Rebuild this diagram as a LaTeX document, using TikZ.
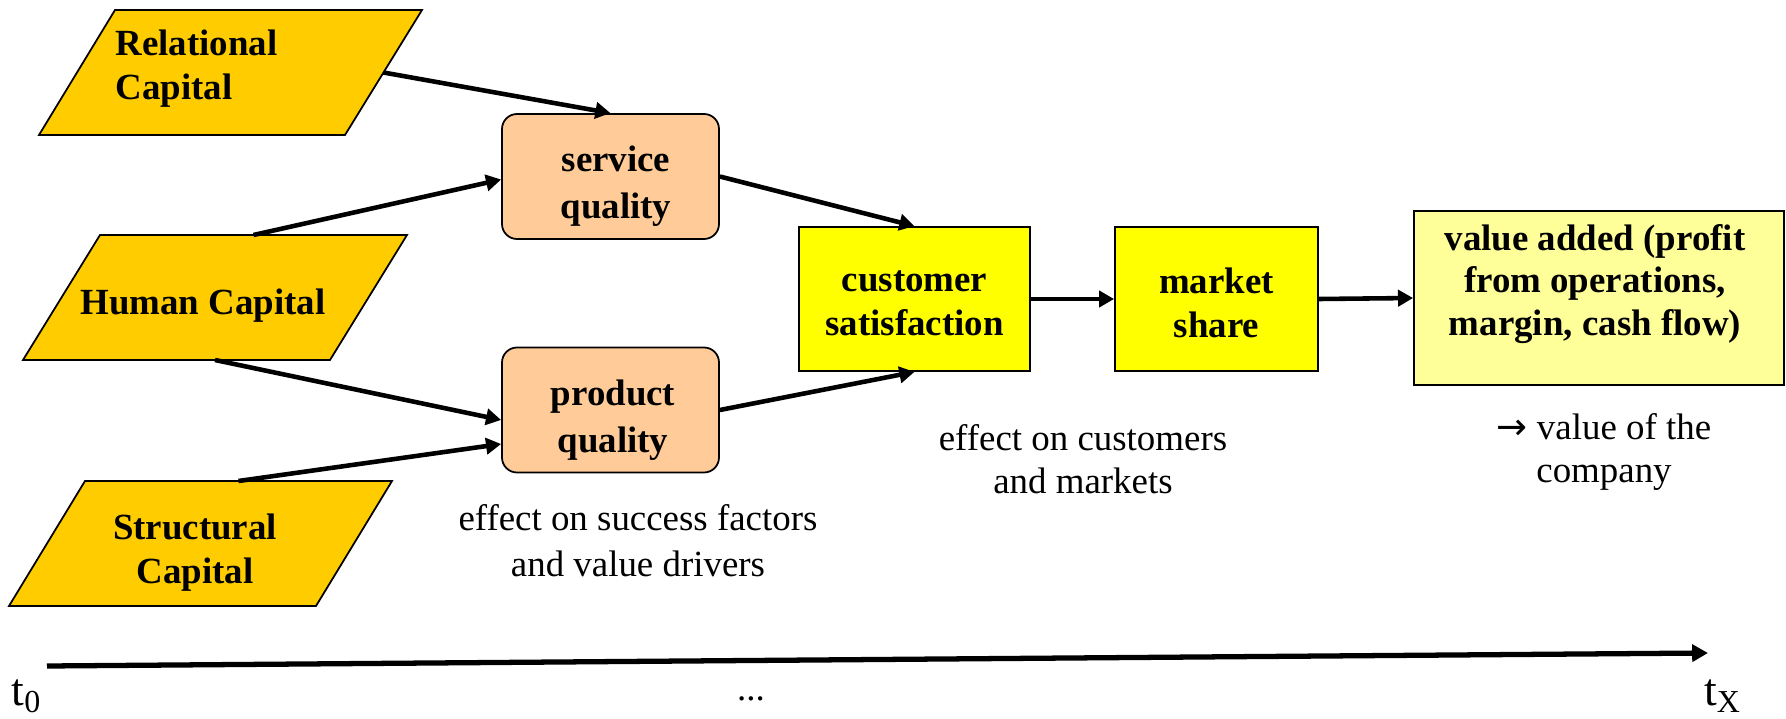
\documentclass[tikz,border=0pt]{standalone}
\usepackage{fontspec}
\setmainfont{Liberation Serif}
\newfontfamily\arrowfont{DejaVu Sans}
\usetikzlibrary{arrows.meta,calc}

\definecolor{capitalgold}{HTML}{FFCC00}
\definecolor{qualitypeach}{HTML}{FFCC99}
\definecolor{marketyellow}{HTML}{FFFF00}
\definecolor{valueyellow}{HTML}{FFFF99}

\begin{document}
\begin{tikzpicture}[
    font=\fontsize{10.5}{12.3}\selectfont,
    capital/.style={draw=black, fill=capitalgold, line width=0.5pt},
    captext/.style={inner sep=0pt, align=center, font=\fontsize{10.5}{12.5}\selectfont\bfseries},
    qualitybox/.style={draw=black, fill=qualitypeach, line width=0.5pt, rounded corners=0.15cm,
      inner sep=0pt, minimum width=2.17cm, minimum height=1.25cm},
    marketbox/.style={draw=black, fill=marketyellow, line width=0.5pt, inner sep=0pt,
      minimum height=1.44cm},
    note/.style={inner sep=0pt, align=center},
    flow/.style={-{Triangle[length=4.3pt,width=4.6pt]}, line width=1.3pt},
  ]
  \useasboundingbox (0,0) rectangle (17.86,7.18);

  % Capitals
  \filldraw[capital] (1.15,7.08) -- (4.22,7.08) -- (3.45,5.83) -- (0.39,5.83) -- cycle;
  \node[captext, anchor=west, align=left] (rel) at (1.15,6.49) {Relational\\Capital};
  \filldraw[capital] (1.00,4.83) -- (4.07,4.83) -- (3.30,3.58) -- (0.23,3.58) -- cycle;
  \node[captext] (hum) at (2.03,4.12) {Human Capital};
  \filldraw[capital] (0.85,2.37) -- (3.92,2.37) -- (3.16,1.12) -- (0.09,1.12) -- cycle;
  \node[captext] (str) at (1.95,1.65) {Structural\\Capital};
  \coordinate (rel-out) at (3.835,6.455);
  \coordinate (hum-top) at (2.535,4.83);
  \coordinate (hum-bot) at (2.15,3.58);
  \coordinate (str-top) at (2.385,2.37);

  % Success factors
  \node[qualitybox] (svc) at (6.105,5.415) {};
  \node[captext, font=\fontsize{10.5}{13.2}\selectfont\bfseries] (svctext) at (6.16,5.32) {service\\quality};
  \node[qualitybox] (prd) at (6.105,3.08) {};
  \node[captext, font=\fontsize{10.5}{13.2}\selectfont\bfseries] (prdtext) at (6.13,2.98) {product\\quality};

  % Customers and markets
  \node[marketbox, minimum width=2.31cm] (cus) at (9.145,4.19) {};
  \node[captext] (custext) at (9.145,4.15) {customer\\satisfaction};
  \node[marketbox, minimum width=2.03cm] (mkt) at (12.165,4.19) {};
  \node[captext] (mkttext) at (12.165,4.15) {market\\share};
  \node[draw=black, fill=valueyellow, line width=0.5pt, minimum width=3.70cm, minimum height=1.74cm] (val) at (15.99,4.20) {};
  \node[captext, font=\fontsize{10.5}{12.2}\selectfont\bfseries] (valtext) at (15.95,4.34) {value added (profit\\from operations,\\margin, cash flow)};

  % Effects
  \draw[flow] (rel-out) -- (svc.north);
  \draw[flow] (hum-top) -- ($(svc.west)+(0,-0.03)$);
  \draw[flow] (hum-bot) -- ($(prd.west)+(0,-0.10)$);
  \draw[flow] (str-top) -- ($(prd.west)+(0,-0.34)$);
  \draw[flow] (svc.east) -- (cus.north);
  \draw[flow] (prd.east) -- (cus.south);
  \draw[flow] (cus.east) -- (mkt.west);
  \draw[flow] (mkt.east) -- (val.west);

  \node[note, font=\fontsize{10.5}{13}\selectfont] (succ) at (6.38,1.77) {effect on success factors\\and value drivers};
  \node[note] (mark) at (10.83,2.59) {effect on customers\\and markets};
  \node[note] (comp) at (16.04,2.66) {{\arrowfont →} value of the\\company};

  % Time axis
  \coordinate (t0) at (0.47,0.52);
  \coordinate (tx) at (17.08,0.65);
  \draw[-{Triangle[length=4.5pt,width=4.8pt]}, line width=1.5pt] (t0) -- (tx);
  \node[inner sep=0pt] (t0label) at (0.27,0.22) {\fontsize{13}{15}\selectfont t\textsubscript{0}};
  \node[inner sep=0pt] (txlabel) at (17.23,0.22) {\fontsize{13}{15}\selectfont t\textsubscript{X}};
  \node[inner sep=0pt] (dots) at (7.51,0.19) {...};
\end{tikzpicture}
\end{document}
